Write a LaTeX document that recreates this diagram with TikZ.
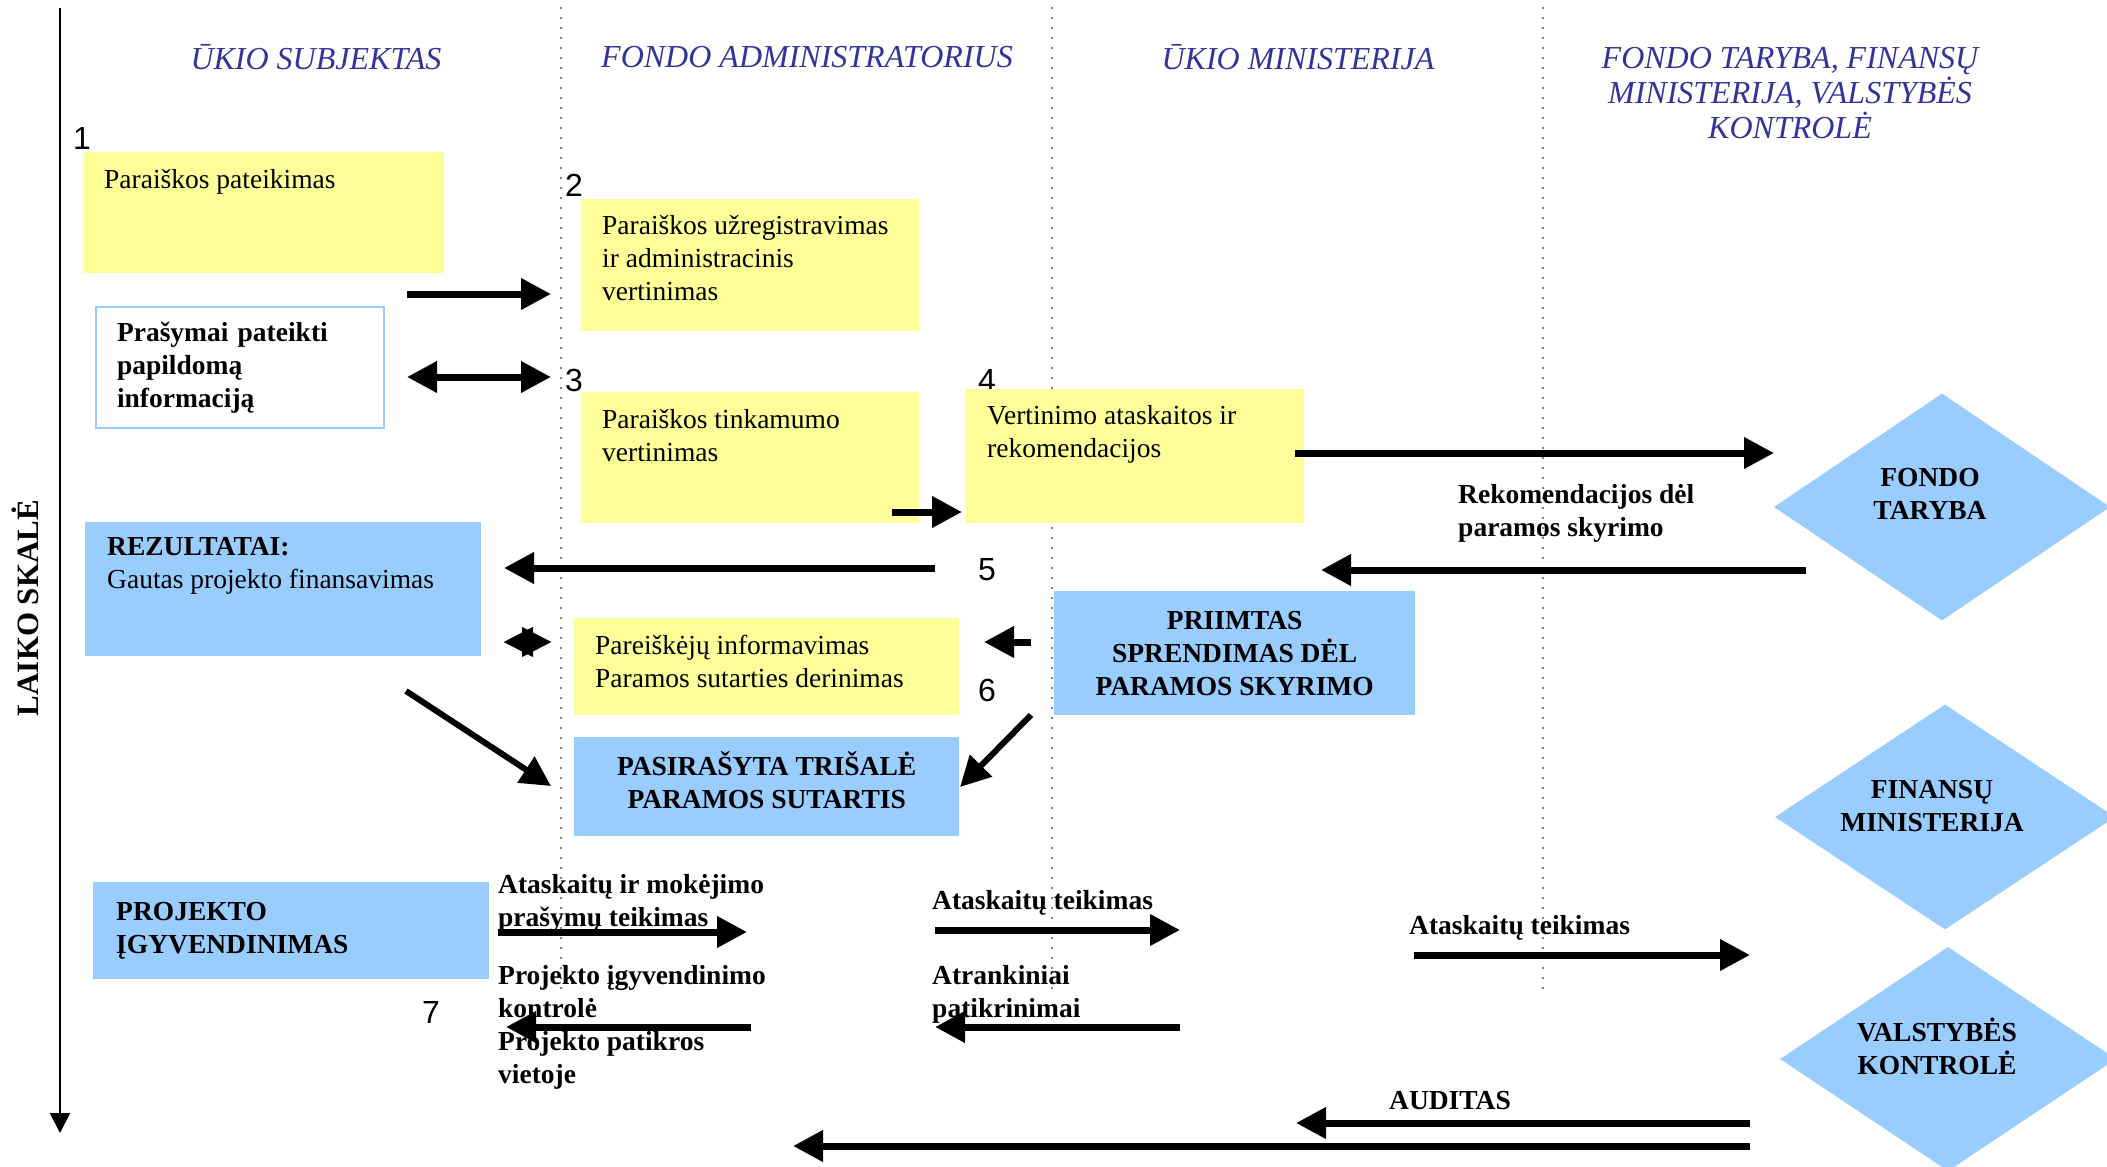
\documentclass[tikz,border=0pt]{standalone}
\usepackage{fontspec}
\setmainfont{Liberation Serif}
\setsansfont{Liberation Sans}
\usetikzlibrary{arrows.meta}
\usetikzlibrary{shapes.geometric}
\usetikzlibrary{positioning}

\definecolor{notegelt}{HTML}{FFFF99}
\definecolor{boxmel}{HTML}{99CCFF}
\definecolor{galvmel}{HTML}{333399}

\tikzset{
  tekstas/.style={font=\fontsize{27.5}{33}\selectfont, inner sep=0pt, align=left, anchor=north west},
  storas/.style={tekstas, font=\fontsize{27.5}{33}\selectfont\bfseries},
  vidurys/.style={storas, anchor=center, align=center},
  antraste/.style={font=\fontsize{32}{35}\selectfont\itshape, text=galvmel, align=center, inner sep=0pt},
  numeris/.style={font=\fontsize{32}{34}\selectfont\sffamily, inner sep=0pt},
  geltona/.style={fill=notegelt, inner sep=0pt, anchor=north west},
  melyna/.style={fill=boxmel, inner sep=0pt, anchor=north west},
  deimantas/.style={diamond, fill=boxmel, inner sep=0pt},
  rodykle/.style={line width=7pt, -{Triangle[length=30pt,width=30pt]}},
  abipus/.style={line width=7pt, {Triangle[length=30pt,width=30pt]}-{Triangle[length=30pt,width=30pt]}},
  skyrius/.style={gray, line width=1.5pt, dash pattern=on 2pt off 8pt},
}

\begin{document}
\begin{tikzpicture}[x=1pt,y=-1pt]
        \useasboundingbox (0,0) rectangle (2107,1167);

        % laiko asis ir stulpeliu ribos
        \foreach \n/\x/\y in {ax1/60/8, ax2/60/1133,
                d1a/561/7, d1b/561/990, d2a/1052/7, d2b/1052/990, d3a/1543/7, d3b/1543/997}
            \coordinate (\n) at (\x,\y);
        \draw[skyrius] (d1a) -- (d1b);
        \draw[skyrius] (d2a) -- (d2b);
        \draw[skyrius] (d3a) -- (d3b);
        \draw[line width=2pt, -{Triangle[length=20pt,width=20pt]}] (ax1) -- (ax2);
        \node[font=\fontsize{31}{33}\selectfont\bfseries, rotate=90, inner sep=0pt] (laikas) at (25,608) {LAIKO SKALĖ};

        \node[antraste] (hSubj) at (316,57) {ŪKIO SUBJEKTAS};
        \node[antraste] (hAdmin) at (807,57) {FONDO ADMINISTRATORIUS};
        \node[antraste] (hMin) at (1298,57) {ŪKIO MINISTERIJA};
        \node[antraste] (hTaryba) at (1790,93) {FONDO TARYBA, FINANSŲ\\MINISTERIJA, VALSTYBĖS\\KONTROLĖ};

        % zingsniu numeriai
        \node[numeris] (n1) at (82,138) {1};
        \node[numeris] (n2) at (574,185) {2};
        \node[numeris] (n3) at (574,380) {3};
        \node[numeris] (n4) at (987,380) {4};
        \node[numeris] (n5) at (987,570) {5};
        \node[numeris] (n6) at (987,690) {6};
        \node[numeris] (n7) at (431,1012) {7};

        % dezutes
        \node[geltona, minimum width=361pt, minimum height=121pt] (pateik) at (83,152) {};
        \node[tekstas] (pateikT) at ([shift={(21,17.5)}]pateik.north west) {Paraiškos pateikimas};

        \node[geltona, minimum width=338pt, minimum height=132pt] (registr) at (581,199) {};
        \node[tekstas] (registrT) at ([shift={(21,16.5)}]registr.north west) {Paraiškos užregistravimas\\ir administracinis\\vertinimas};

        \node[draw=boxmel, line width=2pt, fill=white, anchor=north west, minimum width=288pt, minimum height=121pt,
            text width=246pt, inner xsep=21pt, inner ysep=0pt, align=left,
            font=\fontsize{27.5}{33}\selectfont\bfseries] (prasymai) at (95,306) {Prašymai pateikti\\papildomą\\informaciją};

        \node[geltona, minimum width=338pt, minimum height=131pt] (tinkam) at (581,392) {};
        \node[tekstas] (tinkamT) at ([shift={(21,17.5)}]tinkam.north west) {Paraiškos tinkamumo\\vertinimas};

        \node[geltona, minimum width=338pt, minimum height=134pt] (vertin) at (966,389) {};
        \node[tekstas] (vertinT) at ([shift={(21,16.5)}]vertin.north west) {Vertinimo ataskaitos ir\\rekomendacijos};

        \node[melyna, minimum width=396pt, minimum height=134pt] (rezult) at (85,522) {};
        \node[tekstas] (rezultT) at ([shift={(22,15.5)}]rezult.north west) {\textbf{REZULTATAI:}\\Gautas projekto finansavimas};

        \node[melyna, minimum width=361pt, minimum height=124pt, align=center,
            font=\fontsize{27.5}{33}\selectfont\bfseries] (priimtas) at (1054,591) {PRIIMTAS\\SPRENDIMAS DĖL\\PARAMOS SKYRIMO};

        \node[geltona, minimum width=385pt, minimum height=97pt] (informav) at (574,618) {};
        \node[tekstas] (informavT) at ([shift={(21,16.5)}]informav.north west) {Pareiškėjų informavimas\\Paramos sutarties derinimas};

        \node[melyna, minimum width=385pt, minimum height=99pt] (pasirasyta) at (574,737) {};
        \node[vidurys] (pasirasytaT) at ([shift={(0,-7)}]pasirasyta.center) {PASIRAŠYTA TRIŠALĖ\\PARAMOS SUTARTIS};

        \node[melyna, minimum width=396pt, minimum height=97pt, text width=350pt, inner xsep=23pt, align=left,
            font=\fontsize{27.5}{33}\selectfont\bfseries] (projektas) at (93,882) {PROJEKTO\\ĮGYVENDINIMAS};

        \node[deimantas, minimum width=336pt, minimum height=227pt] (taryba) at (1942,507) {};
        \node[vidurys] (tarybaT) at ([shift={(-12,-13)}]taryba.center) {FONDO\\TARYBA};
        \node[deimantas, minimum width=340pt, minimum height=225pt] (finmin) at (1945,817) {};
        \node[vidurys] (finminT) at ([shift={(-13,-11)}]finmin.center) {FINANSŲ\\MINISTERIJA};
        \node[deimantas, minimum width=336pt, minimum height=224pt] (valst) at (1948,1059) {};
        \node[vidurys] (valstT) at ([shift={(-11,-13)}]valst.center) {VALSTYBĖS\\KONTROLĖ};

        % prie rodykliu
        \node[storas] (rekom) at (1458,484.5) {Rekomendacijos dėl\\paramos skyrimo};
        \node[storas] (atask1) at (498,874.5) {Ataskaitų ir mokėjimo\\prašymų teikimas};
        \node[storas] (kontr) at (498,965.5) {Projekto įgyvendinimo\\kontrolė\\Projekto patikros\\vietoje};
        \node[storas] (atask2) at (932,890.5) {Ataskaitų teikimas};
        \node[storas] (atrank) at (932,965.5) {Atrankiniai\\patikrinimai};
        \node[storas] (atask3) at (1409,915.5) {Ataskaitų teikimas};
        \node[vidurys] (auditas) at (1450,1101) {AUDITAS};

        % rodykles
        \foreach \n/\x/\y in {p1/407/294, p2/551/294, q1/407/377, q2/551/377,
                r1/892/512, r2/962/512, s1/1295/453, s2/1774/453,
                t1/1806/570, t2/1321/570, u1/935/568, u2/504/568,
                v1/1031/642, v2/984/642, w1/503/642, w2/552/642, wk/533/642, wd/520/642,
                k1/406/691, k2/551/786, l1/1031/715, l2/960/787,
                m1/498/932, m2/747/932, m3/751/1027, m4/506/1027,
                o1/935/930, o2/1180/930, o3/1180/1027, o4/935/1027,
                f1/1414/955, f2/1750/955, g1/1750/1123, g2/1296/1123,
                h1/1750/1146, h2/793/1146}
            \coordinate (\n) at (\x,\y);

        \draw[rodykle] (p1) -- (p2);
        \draw[abipus] (q1) -- (q2);
        \draw[rodykle] (r1) -- (r2);
        \draw[rodykle] (s1) -- (s2);
        \draw[rodykle] (t1) -- (t2);
        \draw[rodykle] (u1) -- (u2);
        \draw[rodykle] (v1) -- (v2);
        \draw[line width=7pt, -{Triangle[length=30pt,width=28pt]}] (wk) -- (w1);
        \draw[line width=7pt, -{Triangle[length=30pt,width=28pt]}] (wd) -- (w2);
        \draw[rodykle, line width=6pt] (k1) -- (k2);
        \draw[rodykle, line width=6pt] (l1) -- (l2);
        \draw[rodykle] (m1) -- (m2);
        \draw[rodykle] (m3) -- (m4);
        \draw[rodykle] (o1) -- (o2);
        \draw[rodykle] (o3) -- (o4);
        \draw[rodykle] (f1) -- (f2);
        \draw[rodykle] (g1) -- (g2);
        \draw[rodykle] (h1) -- (h2);
\end{tikzpicture}
\end{document}
